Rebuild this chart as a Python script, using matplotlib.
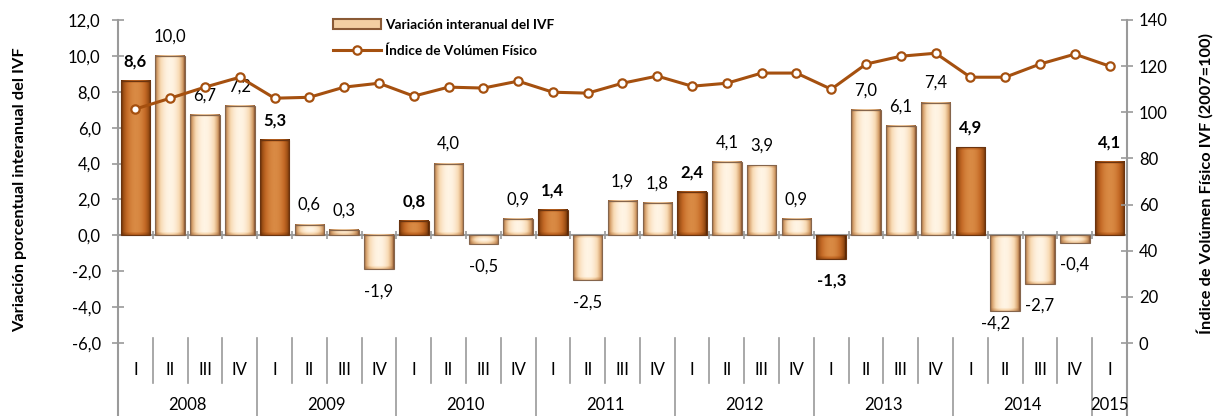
import numpy as np
import matplotlib
matplotlib.use("Agg")
import matplotlib.pyplot as plt
import matplotlib.transforms as mtransforms
from matplotlib.lines import Line2D
from matplotlib.patches import Patch
from matplotlib.colors import LinearSegmentedColormap
from matplotlib.ticker import FuncFormatter, MultipleLocator

plt.rcParams['font.family'] = ['Lato', 'DejaVu Sans']

# datos
years = ['2008', '2009', '2010', '2011', '2012', '2013', '2014', '2015']
quarters = ['I', 'II', 'III', 'IV'] * 7 + ['I']
variacion = [8.6, 10.0, 6.7, 7.2, 5.3, 0.6, 0.3, -1.9, 0.8, 4.0, -0.5, 0.9,
             1.4, -2.5, 1.9, 1.8, 2.4, 4.1, 3.9, 0.9, -1.3, 7.0, 6.1, 7.4,
             4.9, -4.2, -2.7, -0.4, 4.1]
ivf = [101.4, 106.1, 110.9, 115.2, 106.1, 106.5, 110.9, 112.6, 107.0, 110.9,
       110.5, 113.5, 108.7, 108.3, 112.6, 115.7, 111.3, 112.6, 117.0, 117.0,
       110.0, 120.9, 124.3, 125.6, 115.2, 115.2, 120.9, 125.2, 120.0]

GRAY = '#9a9a9a'
LINE = '#a5500f'
light_cmap = LinearSegmentedColormap.from_list(
    'light', ['#946039', '#d6a26e', '#f8dab4', '#fff4e4'])
dark_cmap = LinearSegmentedColormap.from_list(
    'dark', ['#5e2a06', '#9a4d14', '#c46a26', '#d98a44'])


def bevel(rows, cols=30, b=3):
    u = np.linspace(0, 1, cols)
    img = np.tile(np.sin(np.pi * u) ** 0.7, (rows, 1))
    r = np.arange(rows)[:, None]
    edge = np.minimum(r, rows - 1 - r)
    img = np.where(edge < b, img * (0.55 + 0.15 * edge), img)
    return img


fig = plt.figure(figsize=(12.19, 4.16), dpi=100)
ax = fig.add_axes([118 / 1219, 73 / 416, 1009 / 1219, 323 / 416])
ax2 = ax.twinx()

x = np.arange(len(variacion))
w = 0.85
first_q = [q == 'I' for q in quarters]

px_per_unit = 323 / 18
for i, v in enumerate(variacion):
    rows = max(3, int(abs(v) * px_per_unit))
    cmap = dark_cmap if first_q[i] else light_cmap
    ax.imshow(bevel(rows), cmap=cmap, vmin=0, vmax=1, aspect='auto',
              interpolation='bilinear',
              extent=(i - w / 2, i + w / 2, min(0, v), max(0, v)), zorder=2)
ax.bar(x, variacion, width=w, facecolor='none',
       edgecolor=['#6a3410' if f else '#85654c' for f in first_q],
       linewidth=0.8, zorder=3)
ax.set_xlim(-0.5, len(x) - 0.5)
ax.set_ylim(-6, 12)
ax2.set_ylim(0, 140)

# etiquetas de las barras
for i, v in enumerate(variacion):
    txt = f'{v:.1f}'.replace('.', ',')
    dx, dy = (0, 14) if v >= 0 else (0, -16)
    if i == 25:
        dx, dy = (-7, -9)
    ax.annotate(txt, (i, v), xytext=(dx, dy), textcoords='offset points',
                ha='center', va='center', fontsize=12,
                fontweight='bold' if first_q[i] else 'normal', zorder=5)

# linea IVF
ax2.plot(x, ivf, color=LINE, lw=2.2, marker='o', markersize=6,
         markerfacecolor='white', markeredgecolor=LINE, markeredgewidth=1.6,
         zorder=4)

# ejes
fmt = FuncFormatter(lambda v, p: f'{v:.1f}'.replace('.', ','))
ax.yaxis.set_major_locator(MultipleLocator(2))
ax.yaxis.set_major_formatter(fmt)
ax2.yaxis.set_major_locator(MultipleLocator(20))
for a in (ax, ax2):
    for s in a.spines.values():
        s.set_visible(False)
    a.tick_params(axis='y', direction='inout', length=9, width=1.2,
                  color=GRAY, labelsize=12, pad=4)
    a.set_xticks([])
ax.tick_params(axis='y', pad=8)
ax.axhline(0, color=GRAY, lw=1.5, zorder=1)
ax.vlines(np.arange(len(x) + 1) - 0.5, -0.22, 0.22, color=GRAY, lw=1.2,
          zorder=1)

trans = mtransforms.blended_transform_factory(ax.transData, ax.transAxes)
ax.plot([0, 0], [1, -0.226], transform=ax.transAxes, color=GRAY, lw=1.5,
        clip_on=False)
ax.plot([1, 1], [1, -0.226], transform=ax.transAxes, color=GRAY, lw=1.5,
        clip_on=False)
for i in range(len(x) - 1):
    b = i + 0.5
    bottom = -0.226 if quarters[i + 1] == 'I' else -0.124
    ax.plot([b, b], [0.016, bottom], transform=trans, color=GRAY, lw=1.2,
            clip_on=False)
for i, q in enumerate(quarters):
    ax.text(i, -0.084, q, transform=trans, ha='center', va='center',
            fontsize=12)
starts = [i for i, q in enumerate(quarters) if q == 'I']
for k, yr in enumerate(years):
    s = starts[k]
    e = starts[k + 1] - 1 if k + 1 < len(starts) else len(x) - 1
    ax.text((s + e) / 2, -0.192, yr, transform=trans, ha='center',
            va='center', fontsize=12)

fig.text(20 / 1219, 1 - 190 / 416, 'Variación porcentual interanual del IVF',
         rotation=90, ha='center', va='center', fontsize=11.8,
         fontweight='bold')
fig.text(1205 / 1219, 1 - 183 / 416, 'Índice de Volúmen Físico IVF (2007=100)',
         rotation=90, ha='center', va='center', fontsize=11.8,
         fontweight='bold')

handles = [Patch(facecolor='#f3cfa2', edgecolor='#8a5a35', linewidth=1.5),
           Line2D([], [], color=LINE, lw=2.2, marker='o', markersize=6,
                  markerfacecolor='white', markeredgecolor=LINE,
                  markeredgewidth=1.6)]
fig.legend(handles, ['Variación interanual del IVF',
                     'Índice de Volúmen Físico'],
           loc='upper left', bbox_to_anchor=(333 / 1219, 1 - 19 / 416),
           frameon=False, prop={'weight': 'bold', 'size': 9.8},
           handlelength=3.5, handleheight=0.8, handletextpad=0.35,
           labelspacing=1.0, borderpad=0, borderaxespad=0)

fig.savefig('out.png', dpi=100)
